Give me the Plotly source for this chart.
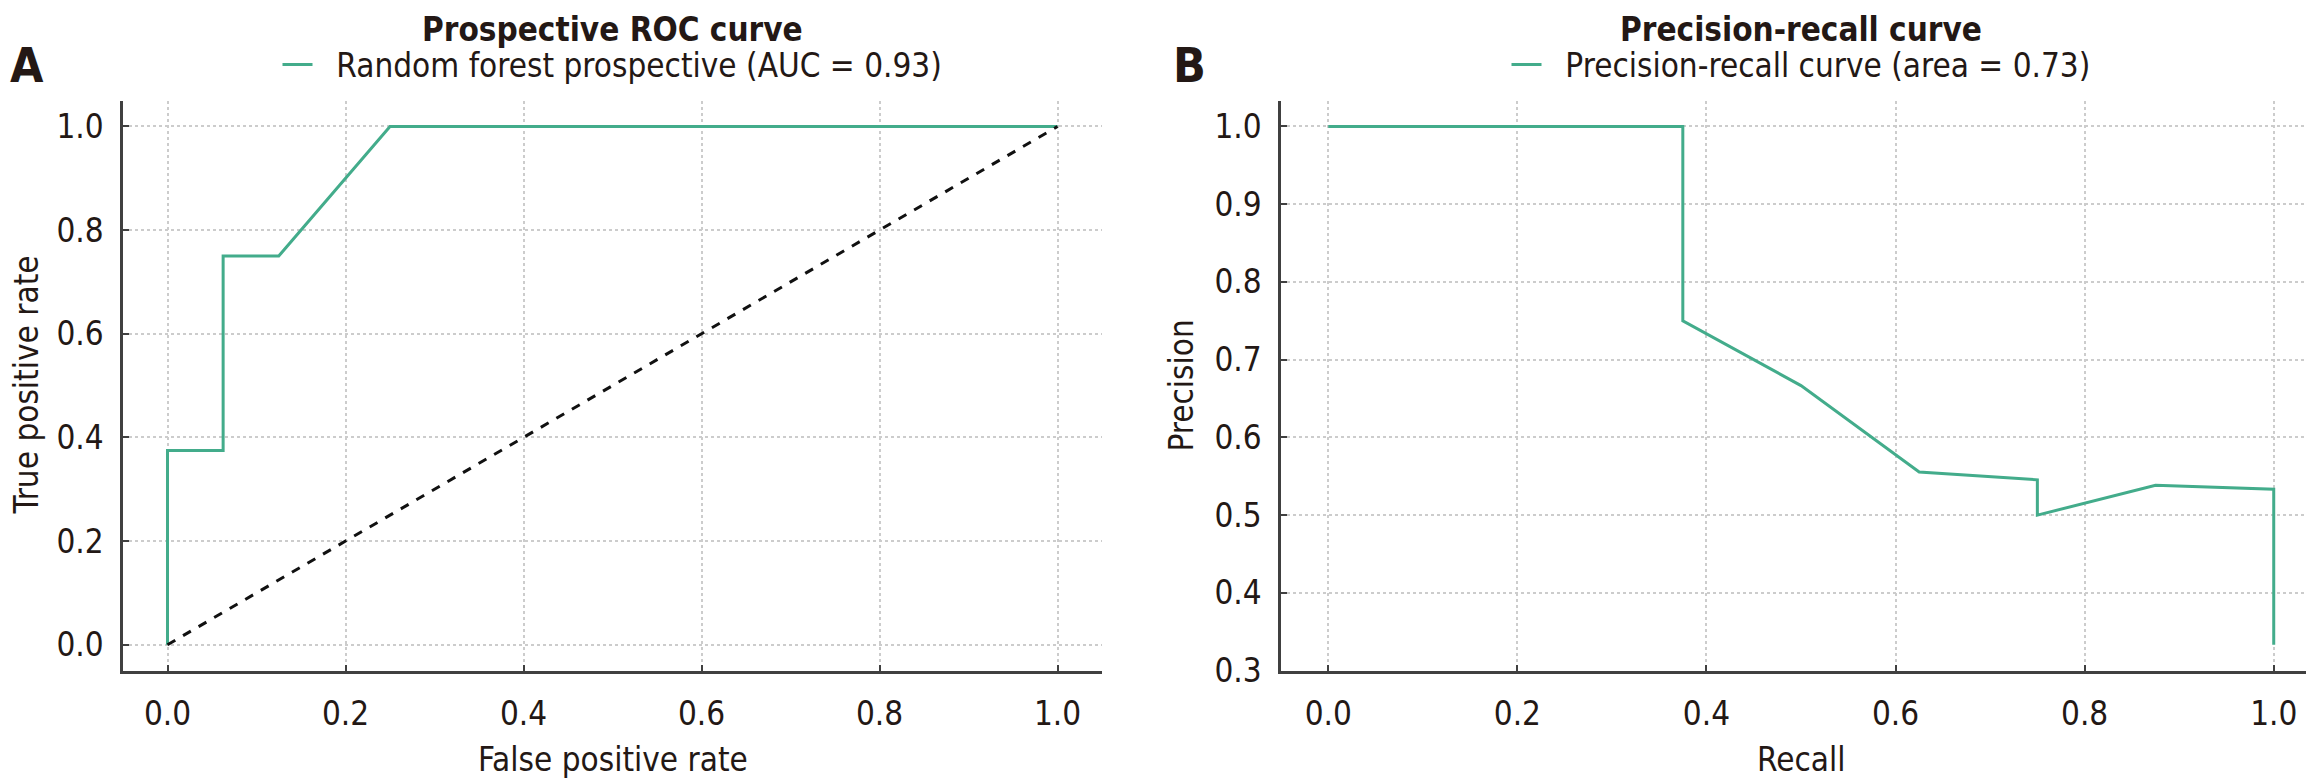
import plotly.graph_objects as go

# ---- data ----
roc_fpr = [0.0, 0.0, 0.0625, 0.0625, 0.125, 0.25, 1.0]
roc_tpr = [0.0, 0.375, 0.375, 0.75, 0.75, 1.0, 1.0]
chance_x = [0.0, 1.0]
chance_y = [0.0, 1.0]

pr_recall = [1.0, 1.0, 0.875, 0.75, 0.75, 0.625, 0.5, 0.375, 0.375, 0.0]
pr_precision = [0.3333, 0.5333, 0.5385, 0.5, 0.5455, 0.5556, 0.6667, 0.75, 1.0, 1.0]

x_ticks = [0.0, 0.2, 0.4, 0.6, 0.8, 1.0]
roc_y_ticks = [0.0, 0.2, 0.4, 0.6, 0.8, 1.0]
pr_y_ticks = [0.3, 0.4, 0.5, 0.6, 0.7, 0.8, 0.9, 1.0]

roc_label = "Random forest prospective (AUC = 0.93)"
pr_label = "Precision-recall curve (area = 0.73)"

# ---- style ----
W, H = 2314, 783
FONT = "DejaVu Sans Condensed, DejaVu Sans, sans-serif"
GREEN = "#43ac8b"
TXT = "#231815"
AX = "#404040"
FS = 33

def px(x):
    return x / W

def py(y):
    return 1 - y / H

left_dom = [px(115), px(1094)]
right_dom = [px(1273), px(2313)]
y_dom = [py(680), py(95)]

fig = go.Figure()
fig.add_trace(go.Scatter(x=roc_fpr, y=roc_tpr, mode="lines", name="&nbsp;&nbsp;" + roc_label,
                         line=dict(color=GREEN, width=3), xaxis="x", yaxis="y",
                         legend="legend"))
fig.add_trace(go.Scatter(x=chance_x, y=chance_y, mode="lines", showlegend=False,
                         line=dict(color="#111111", width=3, dash="dash"),
                         xaxis="x", yaxis="y"))
fig.add_trace(go.Scatter(x=pr_recall, y=pr_precision, mode="lines", name="&nbsp;&nbsp;" + pr_label,
                         line=dict(color=GREEN, width=3), xaxis="x2", yaxis="y2",
                         legend="legend2"))

axis_common = dict(
    showline=True, linecolor=AX, linewidth=2.5,
    ticks="inside", ticklen=6, tickwidth=2, tickcolor=AX,
    showgrid=True, gridcolor="#cccccc", griddash="dot", gridwidth=1.5,
    zeroline=False, mirror=False,
    tickfont=dict(family=FONT, size=FS, color=TXT),
    tickformat=".1f",
)

legend_common = dict(orientation="h", xanchor="center", y=py(58), yanchor="middle",
                     font=dict(family=FONT, size=FS, color=TXT),
                     bgcolor="rgba(0,0,0,0)", itemwidth=30)

fig.update_layout(
    width=W, height=H,
    margin=dict(l=0, r=0, t=0, b=0),
    paper_bgcolor="white", plot_bgcolor="white",
    font=dict(family=FONT, size=FS, color=TXT),
    xaxis=dict(domain=left_dom, range=[-0.05, 1.05], tickvals=x_ticks,
               anchor="y", ticklabelstandoff=12, **axis_common),
    yaxis=dict(domain=y_dom, range=[-0.05, 1.05], tickvals=roc_y_ticks,
               anchor="x", ticklabelstandoff=10, **axis_common),
    xaxis2=dict(domain=right_dom, range=[-0.05, 1.05], tickvals=x_ticks,
                anchor="y2", ticklabelstandoff=12, **axis_common),
    yaxis2=dict(domain=y_dom, range=[0.3, 1.0333], tickvals=pr_y_ticks,
                anchor="x2", ticklabelstandoff=10, **axis_common),
    legend=dict(x=(left_dom[0] + left_dom[1]) / 2, **legend_common),
    legend2=dict(x=(right_dom[0] + right_dom[1]) / 2, **legend_common),
)

annotations = [
    dict(text="<b>Prospective ROC curve</b>", x=(left_dom[0] + left_dom[1]) / 2, y=py(0),
         xanchor="center", yanchor="top", font=dict(size=FS, family=FONT, color=TXT)),
    dict(text="<b>Precision-recall curve</b>", x=(right_dom[0] + right_dom[1]) / 2, y=py(0),
         xanchor="center", yanchor="top", font=dict(size=FS, family=FONT, color=TXT)),
    dict(text="<b>A</b>", x=px(0), y=py(58), xanchor="left", yanchor="middle",
         font=dict(size=48, family=FONT, color=TXT)),
    dict(text="<b>B</b>", x=px(1163), y=py(58), xanchor="left", yanchor="middle",
         font=dict(size=48, family=FONT, color=TXT)),
    dict(text="False positive rate", x=(left_dom[0] + left_dom[1]) / 2, y=py(771),
         xanchor="center", yanchor="middle", font=dict(size=FS, family=FONT, color=TXT)),
    dict(text="Recall", x=(right_dom[0] + right_dom[1]) / 2, y=py(771),
         xanchor="center", yanchor="middle", font=dict(size=FS, family=FONT, color=TXT)),
    dict(text="True positive rate", x=px(19), y=(y_dom[0] + y_dom[1]) / 2, textangle=-90,
         xanchor="center", yanchor="middle", font=dict(size=FS, family=FONT, color=TXT)),
    dict(text="Precision", x=px(1174), y=(y_dom[0] + y_dom[1]) / 2, textangle=-90,
         xanchor="center", yanchor="middle", font=dict(size=FS, family=FONT, color=TXT)),
]
for a in annotations:
    a.update(xref="paper", yref="paper", showarrow=False)
fig.update_layout(annotations=annotations)

fig.write_html("out.html")
